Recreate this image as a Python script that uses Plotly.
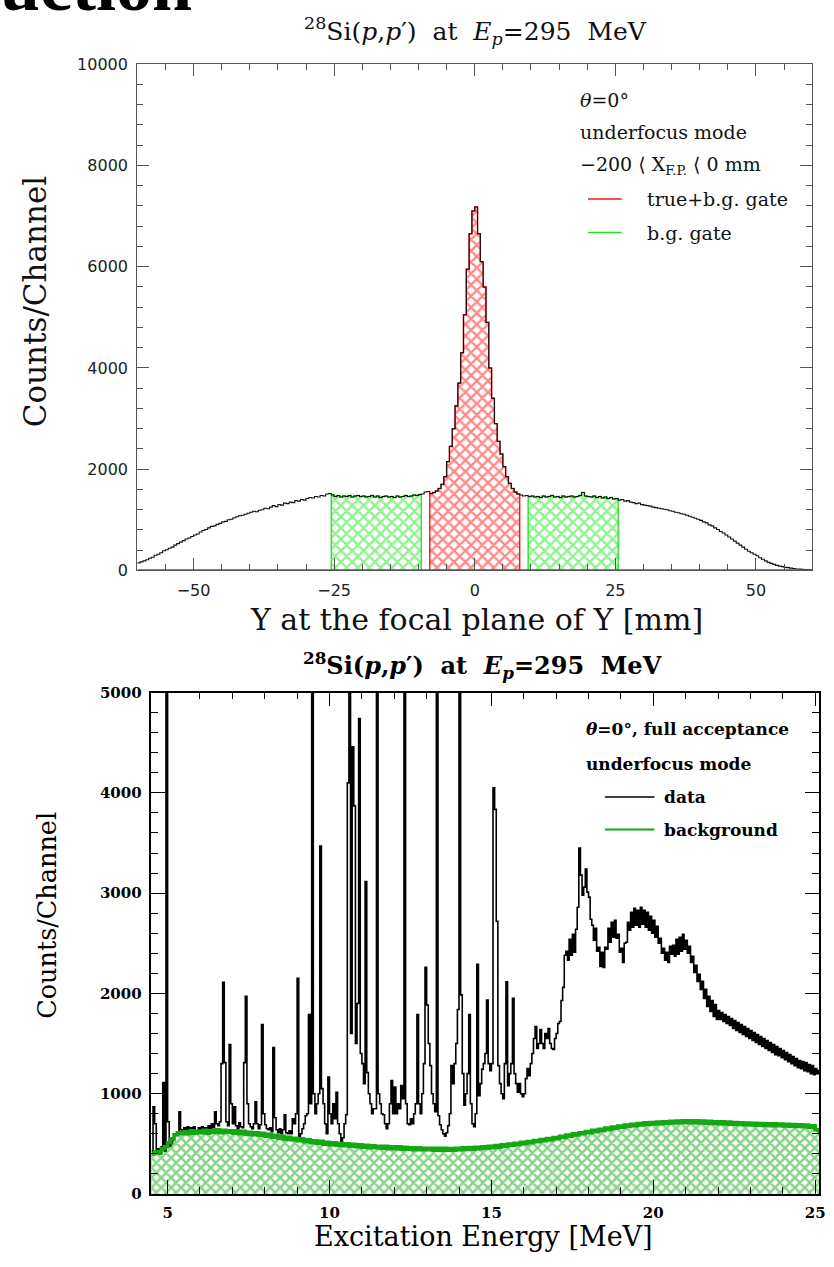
import numpy as np
import plotly.graph_objects as go

# ---------------- Top panel: Y at focal plane, 0.5 mm bins from -60 mm ----------------
Y_START = -60.0
Y_BIN = 0.5
Y_COUNTS = [
    150, 170, 190, 210, 240, 260, 300, 320, 350, 390, 410, 440, 460, 500, 530, 560, 590, 620, 640, 670,        # -60..-50
    700, 720, 760, 790, 810, 840, 870, 880, 910, 930, 960, 970, 1000, 1010, 1040, 1060, 1080, 1090, 1110, 1130,  # -50..-40
    1150, 1170, 1160, 1190, 1200, 1230, 1220, 1250, 1280, 1260, 1300, 1290, 1330, 1320, 1350, 1340, 1380, 1370, 1400, 1390,  # -40..-30
    1420, 1440, 1430, 1460, 1450, 1480, 1470, 1510, 1520, 1490, 1460, 1480, 1450, 1470, 1460, 1480, 1450, 1470, 1480, 1460,  # -30..-20
    1470, 1450, 1460, 1480, 1450, 1470, 1440, 1460, 1470, 1450, 1460, 1440, 1470, 1450, 1460, 1480, 1460, 1470, 1490, 1480,  # -20..-10
    1500, 1510, 1550, 1560, 1520, 1540, 1570, 1620, 1700, 1850, 2150, 2450, 2800, 3250, 3700, 4300, 5050, 5950, 6650, 7100,  # -10..0
    7180, 6650, 6100, 5600, 4900, 4000, 3400, 2900, 2550, 2300, 2050, 1850, 1720, 1620, 1550, 1510, 1490, 1470, 1480, 1460,  # 0..10
    1470, 1450, 1460, 1440, 1470, 1450, 1460, 1480, 1450, 1460, 1440, 1470, 1450, 1460, 1470, 1450, 1460, 1480, 1540, 1470,  # 10..20
    1460, 1450, 1470, 1440, 1460, 1430, 1450, 1420, 1440, 1410, 1420, 1390, 1400, 1370, 1380, 1350, 1340, 1320, 1330, 1300,  # 20..30
    1290, 1280, 1270, 1250, 1240, 1230, 1220, 1210, 1200, 1180, 1170, 1150, 1140, 1120, 1110, 1090, 1070, 1050, 1030, 1010,  # 30..40
    990, 960, 940, 900, 880, 840, 810, 770, 740, 700, 660, 620, 580, 540, 500, 460, 420, 380, 350, 320,          # 40..50
    290, 250, 220, 190, 160, 140, 120, 100, 85, 75, 60, 55, 45, 40, 30, 28, 22, 18, 15, 12,                      # 50..60
]
GATE_TRUE = (-8.0, 8.0)
GATE_BG = [(-25.5, -9.5), (9.5, 25.5)]

# ---------------- Bottom panel: excitation energy spectrum, 0.05 MeV bins from 4.5 MeV ----------------
E_START = 4.5
E_BIN = 0.05
E_COUNTS = [
    430, 870, 700, 420, 450, 400, 470, 1110, 430, 9000,                                                    # 4.5
    720, 480, 500, 540, 580, 600, 620, 820, 640, 600, 660, 620, 670, 630, 660, 620, 670, 630, 610, 660,    # 5
    640, 670, 620, 660, 630, 680, 640, 700, 660, 820, 700, 680, 720, 1300, 2110, 1310, 720, 680, 1490, 900,  # 6
    700, 870, 680, 650, 710, 670, 660, 1310, 1970, 900, 700, 670, 650, 700, 920, 700, 650, 690, 1690, 800,  # 7
    690, 650, 640, 660, 620, 1460, 760, 640, 610, 650, 600, 640, 790, 610, 600, 630, 600, 750, 700, 800,   # 8
    2150, 560, 600, 650, 700, 780, 800, 1790, 900, 9000, 1000, 800, 900, 1000, 3470, 1050, 900, 700, 600, 1165,  # 9
    800, 700, 900, 750, 1015, 700, 600, 520, 560, 700, 790, 4100, 9000, 1600, 4460, 3870, 1500, 1900, 4740, 1400,  # 10
    1300, 1100, 3115, 1210, 1000, 900, 800, 850, 850, 9000, 1000, 900, 800, 790, 700, 650, 700, 900, 1130, 800,  # 11
    1065, 800, 900, 850, 1080, 950, 9000, 900, 700, 690, 750, 700, 800, 900, 1790, 900, 800, 1000, 1300, 2260,  # 12
    1885, 1500, 1280, 1000, 900, 820, 9000, 780, 690, 640, 600, 575, 610, 680, 800, 1280, 1100, 1300, 1500, 1840,  # 13
    9000, 1985, 1200, 885, 1000, 1200, 1790, 900, 700, 670, 800, 2290, 980, 1100, 1245, 1300, 1400, 1935, 1300, 1230,  # 14
    1300, 4050, 3835, 2720, 1280, 1100, 1000, 950, 1300, 2115, 1080, 1200, 1300, 1950, 1200, 1100, 1015, 1100, 1000, 970,  # 15
    1000, 1150, 1250, 1180, 1300, 1400, 1550, 1670, 1450, 1500, 1640, 1500, 1450, 1600, 1550, 1650, 1500, 1450, 1440, 1550,  # 16
    1600, 1700, 1720, 1930, 2060, 2380, 2420, 2330, 2540, 2380, 2590, 2410, 2640, 2860, 3450, 3180, 2980, 3060, 3240, 3010,  # 17
    2960, 2740, 2680, 2530, 2650, 2420, 2460, 2270, 2410, 2260, 2460, 2440, 2650, 2510, 2710, 2560, 2730, 2550, 2590, 2410,  # 18
    2450, 2310, 2500, 2510, 2710, 2630, 2810, 2660, 2850, 2680, 2830, 2660, 2860, 2690, 2830, 2660, 2810, 2630, 2770, 2600,  # 19
    2730, 2560, 2670, 2500, 2550, 2400, 2450, 2330, 2410, 2310, 2470, 2390, 2480, 2370, 2540, 2390, 2560, 2420, 2590, 2440,  # 20
    2530, 2400, 2470, 2310, 2370, 2210, 2280, 2120, 2190, 2040, 2120, 1950, 2040, 1870, 1970, 1820, 1930, 1770, 1890, 1740,  # 21
    1830, 1740, 1810, 1720, 1790, 1700, 1770, 1680, 1750, 1650, 1730, 1630, 1710, 1610, 1690, 1590, 1670, 1570, 1650, 1550,  # 22
    1630, 1530, 1610, 1510, 1590, 1490, 1570, 1470, 1550, 1450, 1530, 1430, 1510, 1410, 1490, 1390, 1470, 1380, 1450, 1360,  # 23
    1430, 1340, 1410, 1320, 1390, 1300, 1370, 1280, 1350, 1260, 1330, 1250, 1320, 1230, 1310, 1220, 1290, 1200, 1280, 1190,  # 24
    1250, 1200, 1230,                                                                                       # 25
]
BG_START = 4.5
BG_BIN = 0.1
BG_COUNTS = [
    400, 420, 410, 450, 470,                                   # 4.5
    510, 550, 590, 610, 600, 620, 600, 630, 605, 625,          # 5
    610, 635, 605, 630, 615, 640, 610, 635, 615, 630,          # 6
    605, 630, 600, 625, 595, 615, 590, 610, 585, 605,          # 7
    575, 595, 565, 585, 555, 575, 545, 565, 540, 555,          # 8
    530, 550, 520, 540, 510, 530, 505, 525, 495, 515,          # 9
    490, 510, 485, 505, 480, 500, 475, 495, 470, 490,          # 10
    465, 485, 460, 480, 460, 475, 455, 475, 450, 470,          # 11
    450, 470, 445, 465, 445, 462, 440, 460, 440, 457,          # 12
    440, 457, 435, 455, 437, 455, 435, 453, 437, 455,          # 13
    440, 460, 443, 463, 445, 467, 450, 470, 455, 475,          # 14
    460, 483, 467, 490, 475, 497, 485, 505, 493, 515,          # 15
    500, 523, 510, 533, 520, 543, 530, 553, 540, 563,          # 16
    550, 575, 563, 587, 575, 600, 587, 610, 600, 623,          # 17
    610, 635, 620, 645, 633, 657, 643, 667, 655, 677,          # 18
    665, 687, 673, 695, 680, 703, 687, 710, 693, 713,          # 19
    697, 717, 701, 721, 705, 725, 707, 727, 709, 729,          # 20
    711, 731, 709, 729, 707, 727, 705, 725, 703, 721,          # 21
    700, 719, 697, 717, 695, 713, 693, 711, 689, 707,          # 22
    687, 705, 685, 703, 683, 701, 681, 699, 679, 697,          # 23
    677, 695, 675, 693, 673, 691, 671, 687, 665, 681,          # 24
    640, 630,                                                  # 25
]

W, H = 834, 1267


def px(x):
    return x / W


def py(y):
    return 1 - y / H


def step_xy(start, width, counts, lo=None, hi=None, close=False):
    c = np.asarray(counts, dtype=float)
    edges = start + width * np.arange(len(c) + 1)
    if lo is not None:
        m = (edges[:-1] >= lo - 1e-9) & (edges[1:] <= hi + 1e-9)
        idx = np.where(m)[0]
        c = c[idx]
        edges = np.append(edges[idx], edges[idx[-1] + 1])
    xs = list(edges)
    ys = list(c) + [c[-1]]
    if close:
        xs = [xs[0]] + xs + [xs[-1]]
        ys = [0.0] + ys + [0.0]
    return xs, ys


fig = go.Figure()

RED = "#ff1414"
GREEN_T = "#1fe61f"
GREEN_B = "#14a814"

# ----- top panel traces -----
for lo, hi in GATE_BG:
    xs, ys = step_xy(Y_START, Y_BIN, Y_COUNTS, lo, hi, close=True)
    fig.add_trace(go.Scatter(x=xs, y=ys, mode="lines", line=dict(color=GREEN_T, width=1.4, shape="hv"),
                             fill="tozeroy", fillcolor="rgba(255,255,255,0)",
                             fillpattern=dict(shape="x", fgcolor=GREEN_T, bgcolor="white", size=8, solidity=0.5),
                             xaxis="x", yaxis="y", showlegend=False, hoverinfo="skip"))
xs, ys = step_xy(Y_START, Y_BIN, Y_COUNTS, *GATE_TRUE, close=True)
fig.add_trace(go.Scatter(x=xs, y=ys, mode="lines", line=dict(color=RED, width=1.4, shape="hv"),
                         fill="tozeroy", fillcolor="rgba(255,255,255,0)",
                         fillpattern=dict(shape="x", fgcolor=RED, bgcolor="white", size=8, solidity=0.5),
                         xaxis="x", yaxis="y", showlegend=False, hoverinfo="skip"))
xs, ys = step_xy(Y_START, Y_BIN, Y_COUNTS)
fig.add_trace(go.Scatter(x=xs, y=ys, mode="lines", line=dict(color="#111111", width=1.1, shape="hv"),
                         xaxis="x", yaxis="y", showlegend=False, hoverinfo="skip"))
# dark green baseline (zero level of the gated histograms)
fig.add_trace(go.Scatter(x=[Y_START, Y_START + Y_BIN * len(Y_COUNTS)], y=[0, 0], mode="lines",
                         line=dict(color="#2a7a2a", width=2.5), xaxis="x", yaxis="y",
                         showlegend=False, hoverinfo="skip"))

# ----- bottom panel traces -----
xs, ys = step_xy(BG_START, BG_BIN, BG_COUNTS, close=True)
fig.add_trace(go.Scatter(x=xs, y=ys, mode="lines", line=dict(color=GREEN_B, width=0.5, shape="hv"),
                         fill="tozeroy", fillcolor="rgba(255,255,255,0)",
                         fillpattern=dict(shape="x", fgcolor=GREEN_B, bgcolor="white", size=7, solidity=0.6),
                         xaxis="x2", yaxis="y2", showlegend=False, hoverinfo="skip"))
xs, ys = step_xy(E_START, E_BIN, E_COUNTS)
fig.add_trace(go.Scatter(x=xs, y=ys, mode="lines", line=dict(color="black", width=1.6, shape="hv"),
                         xaxis="x2", yaxis="y2", showlegend=False, hoverinfo="skip"))
xs, ys = step_xy(BG_START, BG_BIN, BG_COUNTS)
fig.add_trace(go.Scatter(x=xs, y=ys, mode="lines", line=dict(color=GREEN_B, width=3.5, shape="hv"),
                         xaxis="x2", yaxis="y2", showlegend=False, hoverinfo="skip"))

# ----- axes -----
top_axis_col = "#555555"
common_top = dict(showgrid=False, zeroline=False, showline=True, linecolor=top_axis_col, linewidth=1.3,
                  ticks="inside", tickcolor=top_axis_col, tickwidth=1.2, mirror="allticks",
                  tickformat="d",
                  tickfont=dict(family="DejaVu Sans", size=16, color="#222222"))
fig.update_layout(
    xaxis=dict(domain=[px(138.5), px(819)], anchor="y", range=[-60, 60], tick0=0, dtick=25, ticklen=12,
               minor=dict(ticks="inside", dtick=5, ticklen=6, tickcolor=top_axis_col), ticklabelstandoff=5,
               **common_top),
    yaxis=dict(domain=[py(570), py(56)], anchor="x", range=[0, 10000], tick0=0, dtick=2000, ticklen=12,
               minor=dict(ticks="inside", dtick=400, ticklen=6, tickcolor=top_axis_col), ticklabelstandoff=5,
               **common_top),
)
common_bot = dict(showgrid=False, zeroline=False, showline=True, linecolor="black", linewidth=1.5,
                  ticks="inside", tickcolor="black", tickwidth=1.4, mirror="allticks",
                  tickformat="d",
                  tickfont=dict(family="DejaVu Serif", size=15, color="black", weight="bold"))
fig.update_layout(
    xaxis2=dict(domain=[px(152.7), px(826)], anchor="y2", range=[4.5, 25.12], tick0=0, dtick=5, ticklen=14,
                minor=dict(ticks="inside", dtick=1, ticklen=7, tickcolor="black"), ticklabelstandoff=4,
                **common_bot),
    yaxis2=dict(domain=[py(1203), py(694)], anchor="x2", range=[0, 5000], tick0=0, dtick=1000, ticklen=14,
                minor=dict(ticks="inside", dtick=200, ticklen=7, tickcolor="black"), ticklabelstandoff=5,
                **common_bot),
)

SERIF = "DejaVu Serif"
ann = []


def text(x, y, s, size, xanchor="center", yanchor="middle", family=SERIF, weight="normal", color="#111111",
         angle=0):
    ann.append(dict(x=px(x), y=py(y), xref="paper", yref="paper", text=s, showarrow=False,
                    xanchor=xanchor, yanchor=yanchor, textangle=angle,
                    font=dict(family=family, size=size, color=color, weight=weight)))


# slide heading remnant at the very top-left (mostly cut off by the page edge)
text(196, 19, "uction", 72, xanchor="right", yanchor="bottom", family="Liberation Serif", weight="bold",
     color="black")

title_html = "<sup>28</sup>Si(<i>p</i>,<i>p</i>′)  at  <i>E</i><sub><i>p</i></sub>=295  MeV"
text(480, 22, title_html, 25)
text(481, 620, "Y at the focal plane of Y [mm]", 30)
text(35, 297, "Counts/Channel", 31, angle=-90)

# top legend block
text(583, 92, "<i>θ</i>=0°", 19, xanchor="left")
text(583, 125, "underfocus mode", 19, xanchor="left")
text(583, 159, "−200 ⟨ X<sub>F.P.</sub> ⟨ 0 mm", 19, xanchor="left")
text(650, 193, "true+b.g. gate", 19, xanchor="left")
text(650, 227, "b.g. gate", 19, xanchor="left")

# bottom panel texts
text(487, 667, title_html, 24, weight="bold", color="black")
text(488, 1246, "Excitation Energy [MeV]", 27, color="black")
text(48, 920, "Counts/Channel", 25.5, angle=-90, color="black")
text(589, 731, "<i>θ</i>=0°, full acceptance", 17, xanchor="left", weight="bold", color="black")
text(589, 766, "underfocus mode", 17, xanchor="left", weight="bold", color="black")
text(668, 800, "data", 17, xanchor="left", weight="bold", color="black")
text(668, 833, "background", 17, xanchor="left", weight="bold", color="black")

shapes = [
    dict(type="line", xref="paper", yref="paper", x0=px(593), x1=px(627), y0=py(193), y1=py(193),
         line=dict(color=RED, width=1.5)),
    dict(type="line", xref="paper", yref="paper", x0=px(593), x1=px(627), y0=py(227), y1=py(227),
         line=dict(color=GREEN_T, width=1.5)),
    dict(type="line", xref="paper", yref="paper", x0=px(610), x1=px(660), y0=py(800), y1=py(800),
         line=dict(color="black", width=1.5)),
    dict(type="line", xref="paper", yref="paper", x0=px(610), x1=px(660), y0=py(833), y1=py(833),
         line=dict(color=GREEN_B, width=2)),
]

fig.update_layout(width=W, height=H, margin=dict(l=0, r=0, t=0, b=0), paper_bgcolor="white",
                  plot_bgcolor="white", annotations=ann, shapes=shapes, showlegend=False)

# keep the page exactly the size of the figure (no scrollbars from text that runs past the edges)
POST = ("document.documentElement.style.overflow='hidden';"
        "document.body.style.overflow='hidden';document.body.style.margin='0';"
        "var gd=document.getElementById('{plot_id}');gd.style.overflow='hidden';")
fig.write_html("out.html", post_script=POST)
